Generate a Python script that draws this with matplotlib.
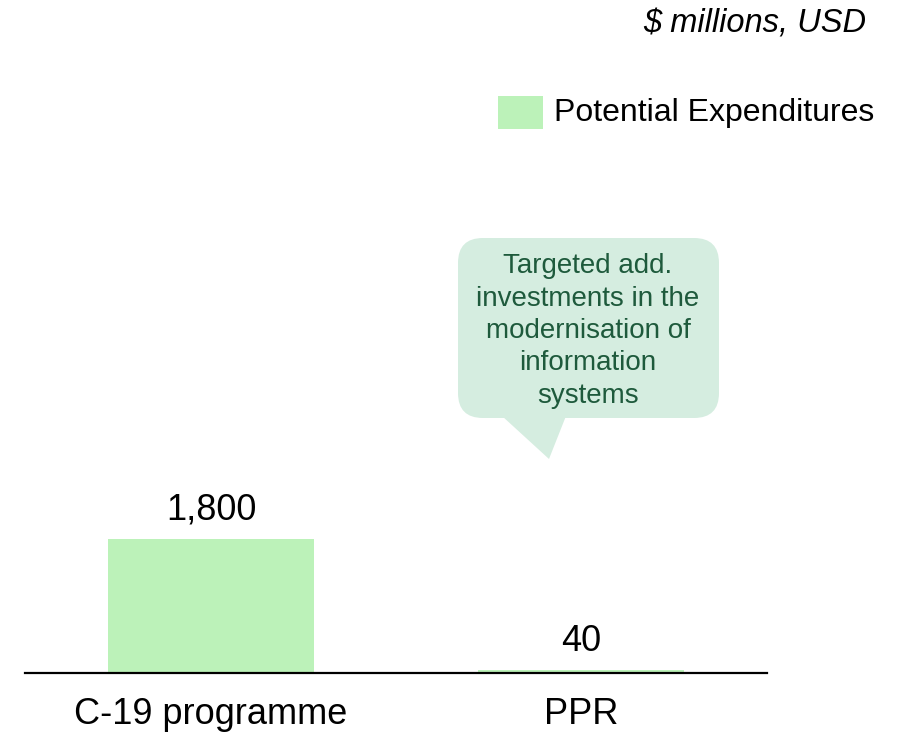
import matplotlib.pyplot as plt
from matplotlib.patches import FancyBboxPatch, Polygon, Rectangle

plt.rcParams['font.family'] = ['Liberation Sans', 'DejaVu Sans']

# data
categories = ['C-19 programme', 'PPR']
values = [1800, 40]
value_labels = ['1,800', '40']
series_name = 'Potential Expenditures'
unit_note = '$ millions, USD'
bubble_text = 'Targeted add.\ninvestments in the\nmodernisation of\ninformation\nsystems'

bar_color = '#BCF2B9'
bubble_color = '#D5EDE0'
bubble_text_color = '#1E5A3C'

W, H = 902, 732
fig = plt.figure(figsize=(W / 100, H / 100), dpi=100)

# main axes, placed in pixels
left, right, bottom, top = 25, 767, 673, 173
ax = fig.add_axes([left / W, (H - bottom) / H, (right - left) / W, (bottom - top) / H])
x = list(range(len(categories)))
bars = ax.bar(x, values, width=0.557, color=bar_color)
ax.set_xlim(-0.503, 1.503)
ax.set_ylim(0, 500 * 1800 / 134)
for sp in ['left', 'right', 'top']:
    ax.spines[sp].set_visible(False)
ax.spines['bottom'].set_linewidth(1.6)
ax.set_yticks([])
ax.set_xticks(x)
ax.set_xticklabels(categories, fontsize=26)
ax.tick_params(axis='x', length=0, pad=17)
for b, lab in zip(bars, value_labels):
    ax.annotate(lab, (b.get_x() + b.get_width() / 2, b.get_height()),
                xytext=(0, 8), textcoords='offset points',
                ha='center', va='bottom', fontsize=26)

# overlay in pixel coords for legend, note and bubble
ov = fig.add_axes([0, 0, 1, 1], facecolor='none')
ov.set_xlim(0, W)
ov.set_ylim(H, 0)
ov.axis('off')

ov.text(866, 24, unit_note, ha='right', va='center', fontsize=23.5, style='italic')

ov.add_patch(Rectangle((498, 96), 45, 33, color=bar_color, lw=0))
ov.text(554, 113, series_name, ha='left', va='center', fontsize=23)

ov.add_patch(FancyBboxPatch((458 + 25, 238 + 25), 261 - 50, 180 - 50,
                            boxstyle='round,pad=25', color=bubble_color, lw=0))
ov.add_patch(Polygon([(502, 416), (549, 459), (566, 416)], closed=True,
                     color=bubble_color, lw=0))
ov.text(588, 331, bubble_text, ha='center', va='center', fontsize=20,
        color=bubble_text_color, linespacing=1.32)

fig.savefig('out.png', dpi=100)
